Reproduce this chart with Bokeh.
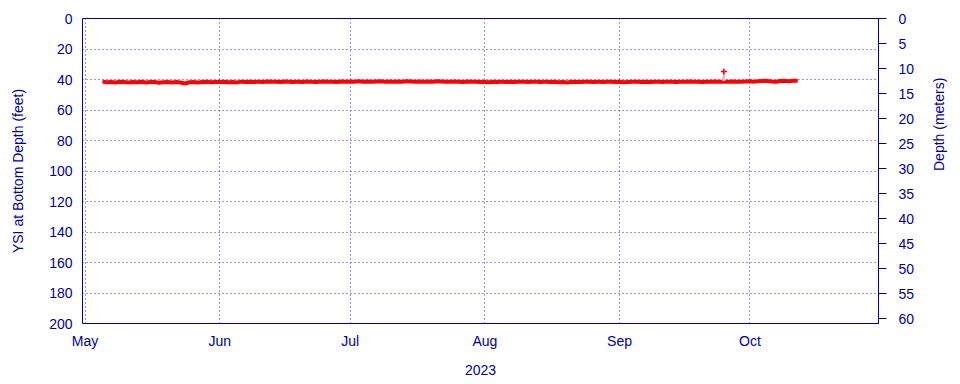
import math
from datetime import datetime, timedelta
from bokeh.plotting import figure
from bokeh.models import (Range1d, LinearAxis, FixedTicker, MonthsTicker,
                          DatetimeTickFormatter, ColumnDataSource)
from bokeh.embed import file_html
from bokeh.resources import INLINE

# ---- data ----
start_date = datetime(2023, 5, 5)
depth_may = [41.4, 41.8, 41.6, 41.9, 41.5, 41.7, 42.0, 41.6, 41.8, 41.5, 41.9, 41.7, 41.6, 42.1,
             41.8, 41.6, 41.9, 41.7, 42.0, 42.6, 41.8, 41.6, 41.9, 41.7, 41.5, 41.8, 41.6]
depth_jun = [41.7, 41.5, 41.8, 41.6, 41.9, 41.4, 41.6, 41.5, 41.7, 41.4, 41.6, 41.3, 41.5, 41.4, 41.6,
             41.3, 41.5, 41.7, 41.4, 41.6, 41.3, 41.5, 41.6, 41.4, 41.3, 41.5, 41.4, 41.6, 41.3, 41.4]
depth_jul = [41.3, 41.4, 41.2, 41.4, 41.3, 41.5, 41.3, 41.2, 41.4, 41.3, 41.5, 41.3, 41.4, 41.2, 41.3,
             41.4, 41.3, 41.5, 41.3, 41.4, 41.2, 41.3, 41.5, 41.4, 41.3, 41.4, 41.6, 41.3, 41.4, 41.5, 41.7]
depth_aug = [41.6, 41.8, 41.5, 41.7, 41.4, 41.6, 41.5, 41.7, 41.4, 41.5, 41.6, 41.4, 41.5, 41.7, 41.4,
             41.6, 41.5, 41.8, 41.6, 41.9, 41.5, 41.7, 41.6, 41.4, 41.5, 41.6, 41.4, 41.7, 41.5, 41.4, 41.6]
depth_sep = [41.5, 41.8, 41.6, 41.4, 41.5, 41.7, 41.5, 41.6, 41.4, 41.5, 41.7, 41.4, 41.5, 41.6, 41.4,
             41.5, 41.3, 41.5, 41.4, 41.6, 41.4, 41.5, 41.3, 41.4, 41.5, 41.4, 41.3, 41.5, 41.4, 41.3]
depth_oct = [41.2, 41.4, 41.1, 40.9, 41.0, 41.3, 41.5, 41.0, 40.9, 41.1, 40.8, 40.9]

spike_date = [datetime(2023, 9, 25)]
spike_depth = [34.8]
spike_base = [41.0]

left_ticks = [0, 20, 40, 60, 80, 100, 120, 140, 160, 180, 200]
right_ticks = [0, 5, 10, 15, 20, 25, 30, 35, 40, 45, 50, 55, 60]

depth_ft = depth_may + depth_jun + depth_jul + depth_aug + depth_sep + depth_oct
dates = [start_date + timedelta(days=i) for i in range(len(depth_ft))]

# ---- styling ----
NAVY = "#0000a0"
GRID = "#2a2aff"
FONT = "Liberation Sans"

p = figure(width=960, height=384, output_backend="svg", toolbar_location=None,
           x_axis_type="datetime",
           x_range=Range1d(datetime(2023, 4, 30, 10), datetime(2023, 10, 30, 14)),
           y_range=Range1d(200, 0),
           min_border_left=82, min_border_right=82, min_border_top=18, min_border_bottom=61)
p.outline_line_color = NAVY
p.outline_line_width = 1

p.extra_y_ranges = {"m": Range1d(200 * 0.3048, 0)}

src = ColumnDataSource(dict(x=dates, y=depth_ft))
p.line("x", "y", source=src, line_color="red", line_width=4)
p.segment(x0=spike_date, y0=spike_base, x1=spike_date, y1=spike_depth,
          line_color="#cccccc", line_width=3)
p.scatter(x=spike_date, y=spike_depth, marker="cross", size=6, line_color="red", line_width=1.5)

# x axis
xa = p.xaxis[0]
xa.ticker = MonthsTicker(months=list(range(12)))
xa.formatter = DatetimeTickFormatter(months="%b", days="%b", hours="%b")
xa.axis_label = "2023"
xa.axis_line_color = None
xa.major_tick_line_color = None
xa.minor_tick_line_color = None
xa.major_tick_out = 0
xa.major_label_standoff = 9
xa.axis_label_standoff = 13

# left axis
ya = p.yaxis[0]
ya.ticker = FixedTicker(ticks=left_ticks)
ya.axis_label = "YSI at Bottom Depth (feet)"
ya.axis_line_color = None
ya.major_tick_line_color = None
ya.minor_tick_line_color = None
ya.major_tick_out = 0
ya.major_label_standoff = 10
ya.axis_label_standoff = 20

# right axis
ra = LinearAxis(y_range_name="m", ticker=FixedTicker(ticks=right_ticks),
                axis_label="Depth (meters)")
ra.axis_line_color = NAVY
ra.major_tick_line_color = NAVY
ra.major_tick_out = 8
ra.major_tick_in = 0
ra.minor_tick_line_color = None
ra.major_label_standoff = 12
ra.axis_label_standoff = 22
ra.axis_label_orientation = math.pi / 2
p.add_layout(ra, "right")

for ax in [xa, ya, ra]:
    ax.major_label_text_color = NAVY
    ax.major_label_text_font = FONT
    ax.major_label_text_font_size = "14px"
    ax.axis_label_text_color = NAVY
    ax.axis_label_text_font = FONT
    ax.axis_label_text_font_size = "14px"
    ax.axis_label_text_font_style = "normal"

p.ygrid.ticker = FixedTicker(ticks=left_ticks[1:-1])
p.xgrid.ticker = MonthsTicker(months=list(range(12)))
for g in [p.xgrid[0], p.ygrid[0]]:
    g.grid_line_color = GRID
    g.grid_line_dash = "1 3"
    g.grid_line_width = 1

open("out.html", "w").write(file_html(p, INLINE))
